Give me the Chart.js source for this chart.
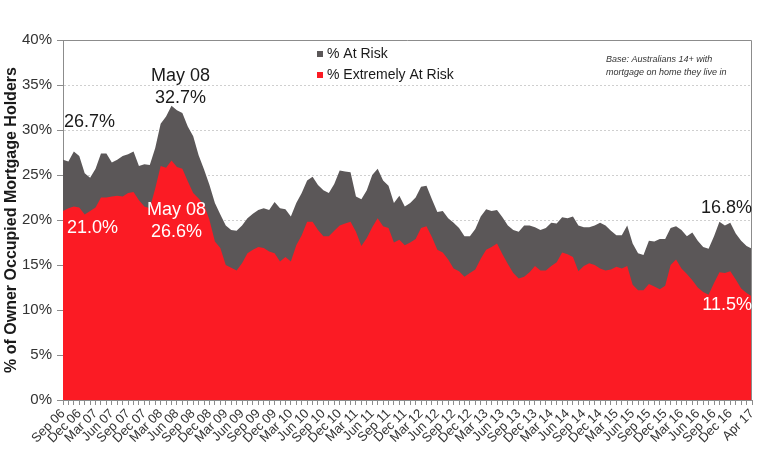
<!DOCTYPE html>
<html>
<head>
<meta charset="utf-8">
<script src="https://cdn.jsdelivr.net/npm/chart.js@4.4.1/dist/chart.umd.min.js"></script>
<style>
  html, body { margin: 0; padding: 0; background: #fff; }
</style>
</head>
<body>
<canvas id="chart" width="768" height="466"></canvas>
<script>
const months = [
  "Sep 06", "Oct 06", "Nov 06", "Dec 06",
  "Jan 07", "Feb 07", "Mar 07", "Apr 07", "May 07", "Jun 07", "Jul 07", "Aug 07", "Sep 07", "Oct 07", "Nov 07", "Dec 07",
  "Jan 08", "Feb 08", "Mar 08", "Apr 08", "May 08", "Jun 08", "Jul 08", "Aug 08", "Sep 08", "Oct 08", "Nov 08", "Dec 08",
  "Jan 09", "Feb 09", "Mar 09", "Apr 09", "May 09", "Jun 09", "Jul 09", "Aug 09", "Sep 09", "Oct 09", "Nov 09", "Dec 09",
  "Jan 10", "Feb 10", "Mar 10", "Apr 10", "May 10", "Jun 10", "Jul 10", "Aug 10", "Sep 10", "Oct 10", "Nov 10", "Dec 10",
  "Jan 11", "Feb 11", "Mar 11", "Apr 11", "May 11", "Jun 11", "Jul 11", "Aug 11", "Sep 11", "Oct 11", "Nov 11", "Dec 11",
  "Jan 12", "Feb 12", "Mar 12", "Apr 12", "May 12", "Jun 12", "Jul 12", "Aug 12", "Sep 12", "Oct 12", "Nov 12", "Dec 12",
  "Jan 13", "Feb 13", "Mar 13", "Apr 13", "May 13", "Jun 13", "Jul 13", "Aug 13", "Sep 13", "Oct 13", "Nov 13", "Dec 13",
  "Jan 14", "Feb 14", "Mar 14", "Apr 14", "May 14", "Jun 14", "Jul 14", "Aug 14", "Sep 14", "Oct 14", "Nov 14", "Dec 14",
  "Jan 15", "Feb 15", "Mar 15", "Apr 15", "May 15", "Jun 15", "Jul 15", "Aug 15", "Sep 15", "Oct 15", "Nov 15", "Dec 15",
  "Jan 16", "Feb 16", "Mar 16", "Apr 16", "May 16", "Jun 16", "Jul 16", "Aug 16", "Sep 16", "Oct 16", "Nov 16", "Dec 16",
  "Jan 17", "Feb 17", "Mar 17", "Apr 17"
]

// only these months get a label under the axis
const tickLabels = [
  "Sep 06", "Dec 06", "Mar 07", "Jun 07", "Sep 07", "Dec 07", "Mar 08", "Jun 08", "Sep 08", "Dec 08",
  "Mar 09", "Jun 09", "Sep 09", "Dec 09", "Mar 10", "Jun 10", "Sep 10", "Dec 10", "Mar 11", "Jun 11",
  "Sep 11", "Dec 11", "Mar 12", "Jun 12", "Sep 12", "Dec 12", "Mar 13", "Jun 13", "Sep 13", "Dec 13",
  "Mar 14", "Jun 14", "Sep 14", "Dec 14", "Mar 15", "Jun 15", "Sep 15", "Dec 15", "Mar 16", "Jun 16",
  "Sep 16", "Dec 16", "Apr 17"
]

const atRisk = [
  26.7, 26.5, 27.6, 27.1,
  25.2, 24.7, 25.7, 27.4, 27.4, 26.4, 26.7, 27.1, 27.3, 27.6, 26.0, 26.2,
  26.1, 28.0, 30.7, 31.5, 32.7, 32.2, 31.9, 30.4, 29.3, 27.2, 25.6, 23.9,
  21.9, 20.6, 19.4, 18.9, 18.8, 19.4, 20.2, 20.7, 21.1, 21.3, 21.1, 22.0,
  21.3, 21.2, 20.4, 21.9, 23.0, 24.4, 24.8, 23.9, 23.3, 23.0, 24.0, 25.5,
  25.4, 25.3, 22.6, 22.3, 23.3, 25.0, 25.7, 24.4, 23.8, 21.9, 22.7, 21.5,
  21.9, 22.5, 23.7, 23.8, 22.3, 20.9, 21.0, 20.2, 19.7, 19.1, 18.2, 18.2,
  19.0, 20.4, 21.2, 21.0, 21.1, 20.3, 19.4, 18.9, 18.7, 19.4, 19.4, 19.2,
  18.9, 19.1, 19.7, 19.6, 20.3, 20.2, 20.4, 19.4, 19.2, 19.2, 19.4, 19.7,
  19.4, 18.8, 18.3, 18.3, 19.4, 17.4, 16.3, 16.1, 17.7, 17.6, 17.9, 17.9,
  19.1, 19.3, 18.9, 18.2, 18.6, 17.7, 17.0, 16.8, 18.2, 19.8, 19.4, 19.7,
  18.5, 17.7, 17.1, 16.8
]

const extremelyAtRisk = [
  21.0, 21.3, 21.5, 21.4,
  20.6, 21.0, 21.4, 22.5, 22.5, 22.6, 22.7, 22.6, 23.0, 23.1, 22.2, 21.5,
  21.3, 23.5, 26.0, 25.8, 26.6, 25.9, 25.7, 24.3, 23.0, 22.4, 21.7, 20.0,
  17.6, 16.9, 15.0, 14.7, 14.4, 15.2, 16.3, 16.7, 17.0, 16.9, 16.5, 16.3,
  15.4, 15.9, 15.4, 17.2, 18.3, 19.8, 19.8, 18.9, 18.2, 18.2, 18.8, 19.4,
  19.6, 19.8, 18.7, 17.1, 18.0, 19.2, 20.2, 19.3, 19.1, 17.5, 17.8, 17.2,
  17.5, 17.9, 19.1, 19.3, 18.1, 16.7, 16.4, 15.6, 14.6, 14.3, 13.7, 14.1,
  14.5, 15.7, 16.7, 17.0, 17.4, 16.2, 15.1, 14.1, 13.5, 13.7, 14.2, 14.9,
  14.4, 14.4, 14.9, 15.3, 16.4, 16.2, 15.9, 14.3, 14.9, 15.2, 15.0, 14.6,
  14.4, 14.5, 14.8, 14.6, 14.9, 12.8, 12.2, 12.2, 12.9, 12.6, 12.3, 12.7,
  15.0, 15.6, 14.6, 14.0, 13.3, 12.5, 12.0, 11.7, 13.0, 14.2, 14.1, 14.3,
  13.4, 12.4, 11.9, 11.5
]

const baseNote = ["Base: Australians 14+ with", "mortgage on home they live in"]

// text call-outs placed against the axes (index on x, value on y)
const callouts = [
  { lines: ["26.7%"], index: 0, value: 30.9, dx: 1, align: "left", color: "#1a1a1a" },
  { lines: ["21.0%"], index: 0, value: 19.1, dx: 4, align: "left", color: "#ffffff" },
  { lines: ["May 08", "32.7%"], index: 20, value: 36.0, dx: 9, align: "center", color: "#1a1a1a" },
  { lines: ["May 08", "26.6%"], index: 20, value: 21.1, dx: 5, align: "center", color: "#ffffff" },
  { lines: ["16.8%"], index: 127, value: 21.3, dx: 0, align: "right", color: "#1a1a1a" },
  { lines: ["11.5%"], index: 127, value: 10.6, dx: 0, align: "right", color: "#ffffff" }
]

const FONT = "'Liberation Sans', Arial, sans-serif"
const GREY = "#5b5758"
const RED = "#fb1b24"

const overlay = {
  id: "overlay",
  afterDraw(chart) {
    const { ctx, chartArea: a, scales: { x, y } } = chart
    ctx.save()

    // plot frame, top and right
    ctx.strokeStyle = "#8c8c8c"
    ctx.lineWidth = 1
    ctx.beginPath()
    ctx.moveTo(a.left, a.top + 0.5)
    ctx.lineTo(a.right - 0.5, a.top + 0.5)
    ctx.lineTo(a.right - 0.5, a.bottom)
    ctx.stroke()

    // legend inside the plot
    ctx.textBaseline = "middle"
    ctx.textAlign = "left"
    ctx.font = "14px " + FONT
    chart.data.datasets.forEach((ds, i) => {
      const top = 51 + i * 21
      ctx.fillStyle = ds.backgroundColor
      ctx.fillRect(317, top, 6, 6)
      ctx.fillStyle = "#1a1a1a"
      ctx.fillText(ds.label, 327, top + 3)
    })

    ctx.font = "italic 9px " + FONT
    ctx.fillStyle = "#333"
    baseNote.forEach((t, i) => ctx.fillText(t, 606, 59 + i * 13))

    ctx.font = "18px " + FONT
    callouts.forEach(c => {
      ctx.fillStyle = c.color
      ctx.textAlign = c.align
      const px = x.getPixelForValue(c.index) + c.dx
      const py = y.getPixelForValue(c.value)
      c.lines.forEach((t, i) => ctx.fillText(t, px, py + i * 22))
    })
    ctx.restore()
  }
}

new Chart(document.getElementById("chart"), {
  type: "line",
  data: {
    labels: months,
    datasets: [
      { label: "% At Risk", data: atRisk, backgroundColor: GREY, fill: "origin", order: 1 },
      { label: "% Extremely At Risk", data: extremelyAtRisk, backgroundColor: RED, fill: "origin", order: 0 }
    ]
  },
  options: {
    responsive: false,
    animation: false,
    layout: { padding: { top: 40, right: 16, left: 0, bottom: 0 } },
    elements: { line: { borderWidth: 0, tension: 0 }, point: { radius: 0 } },
    scales: {
      x: {
        offset: false,
        grid: { drawOnChartArea: false, drawTicks: true, tickLength: 5, color: "#8c8c8c" },
        border: { color: "#8c8c8c" },
        ticks: {
          autoSkip: false,
          minRotation: 45,
          maxRotation: 45,
          padding: 1,
          color: "#333",
          font: { family: FONT, size: 13 },
          callback(value, index) {
            const m = months[index]
            return tickLabels.includes(m) ? m : ""
          }
        },
        afterFit(scale) { scale.height = 66 }
      },
      y: {
        min: 0,
        max: 40,
        grid: { color: "#cfcfcf", tickLength: 6, tickColor: "#8c8c8c" },
        border: { color: "#8c8c8c", dash: [2, 2] },
        ticks: {
          stepSize: 5,
          padding: 5,
          color: "#333",
          font: { family: FONT, size: 15 },
          callback: v => v + "%"
        },
        title: {
          display: true,
          text: "% of Owner Occupied Mortgage Holders",
          color: "#1a1a1a",
          padding: { top: 2, bottom: 0 },
          font: { family: FONT, size: 16, weight: "bold" }
        },
        afterFit(scale) { scale.width = 63 }
      }
    },
    plugins: {
      legend: { display: false },
      tooltip: { enabled: false }
    }
  },
  plugins: [overlay]
})
</script>
</body>
</html>
